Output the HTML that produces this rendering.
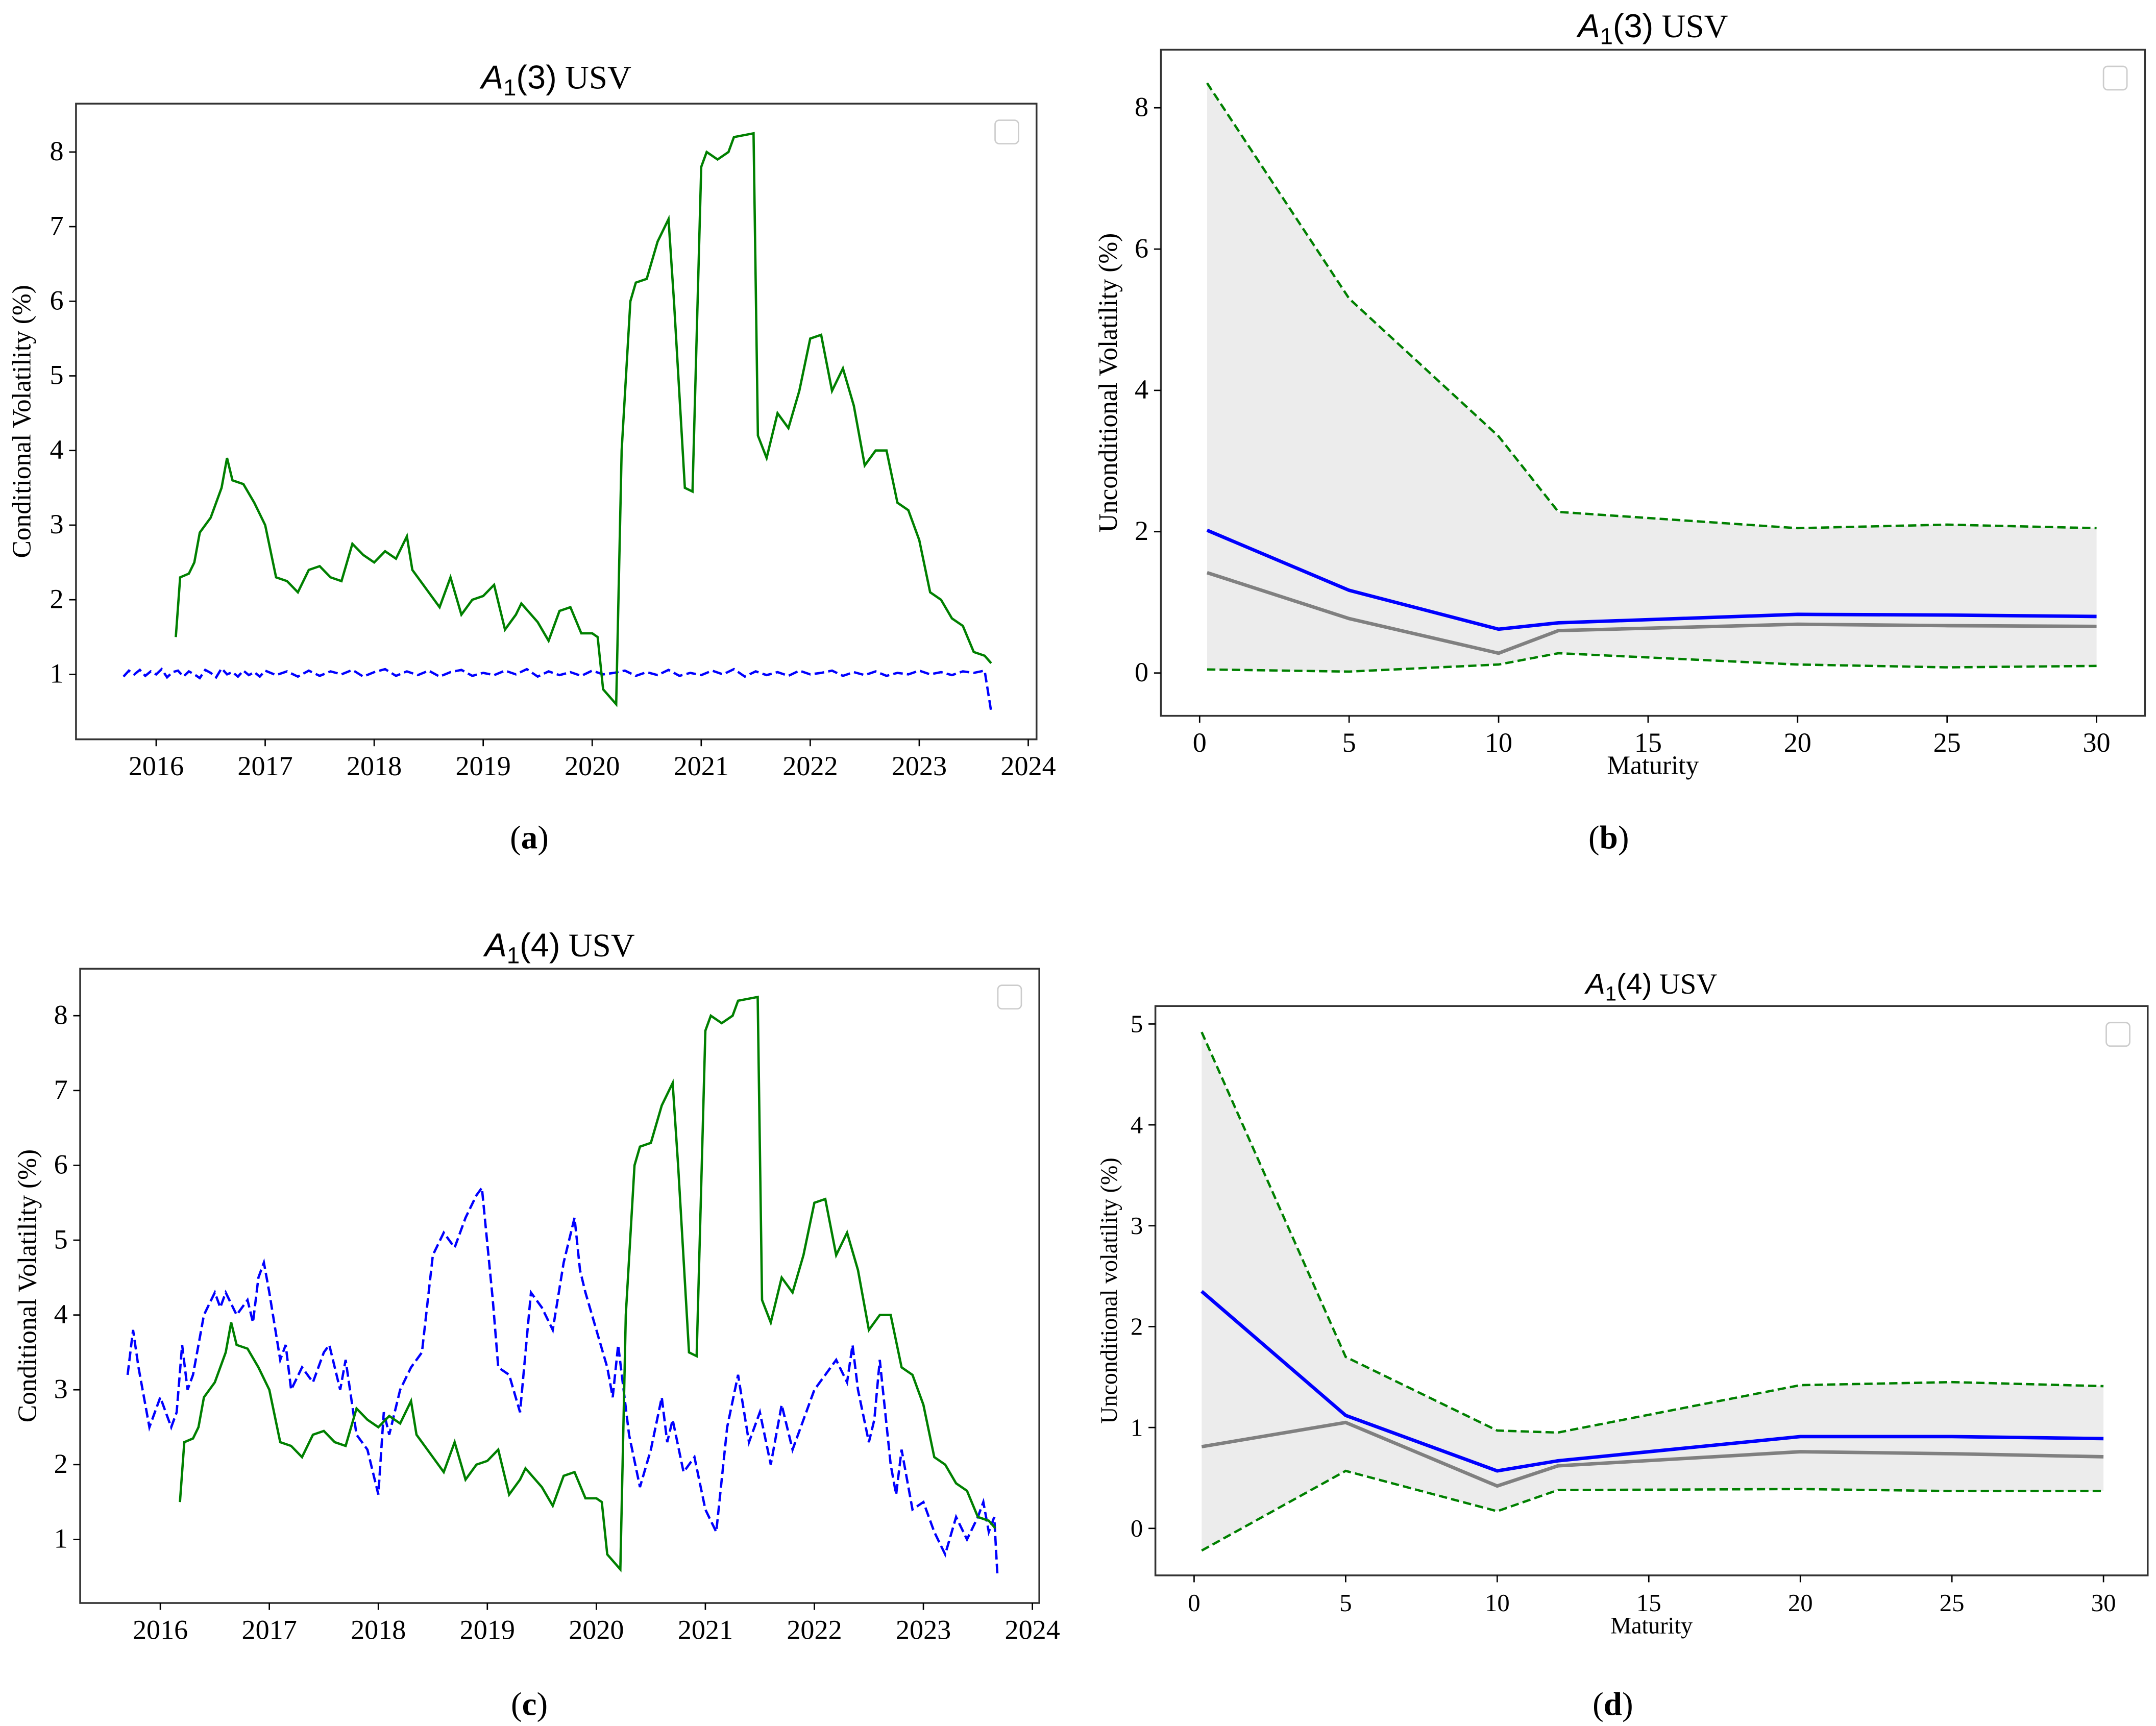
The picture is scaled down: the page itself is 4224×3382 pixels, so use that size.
<!DOCTYPE html>
<html><head><meta charset="utf-8">
<style>
html,body{margin:0;padding:0;background:#fff;}
svg{display:block;}
text{font-family:"Liberation Serif",serif;fill:#000;}
</style></head>
<body>
<svg id="fig" width="4224" height="3382" viewBox="0 0 1560 1249" preserveAspectRatio="none" xmlns="http://www.w3.org/2000/svg">
<rect x="0" y="0" width="1560" height="1249" fill="#fff"/>
</svg>
<script>
// ---- time-series data (panels a & c) ----
const greenDates = [2016.18,2016.22,2016.3,2016.35,2016.4,2016.5,2016.55,2016.6,2016.65,2016.7,2016.8,2016.9,2017.0,2017.1,2017.2,2017.3,2017.4,2017.5,2017.6,2017.7,2017.8,2017.9,2018.0,2018.1,2018.2,2018.3,2018.35,2018.5,2018.6,2018.7,2018.8,2018.9,2019.0,2019.1,2019.2,2019.3,2019.35,2019.5,2019.6,2019.7,2019.8,2019.9,2020.0,2020.05,2020.1,2020.22,2020.27,2020.35,2020.4,2020.5,2020.6,2020.7,2020.75,2020.85,2020.92,2021.0,2021.05,2021.15,2021.25,2021.3,2021.48,2021.52,2021.6,2021.7,2021.8,2021.9,2022.0,2022.1,2022.2,2022.3,2022.4,2022.5,2022.6,2022.7,2022.8,2022.9,2023.0,2023.1,2023.2,2023.3,2023.4,2023.5,2023.6,2023.66];
const greenVals = [1.5,2.3,2.35,2.5,2.9,3.1,3.3,3.5,3.9,3.6,3.55,3.3,3.0,2.3,2.25,2.1,2.4,2.45,2.3,2.25,2.75,2.6,2.5,2.65,2.55,2.85,2.4,2.1,1.9,2.3,1.8,2.0,2.05,2.2,1.6,1.8,1.95,1.7,1.45,1.85,1.9,1.55,1.55,1.5,0.8,0.6,4.0,6.0,6.25,6.3,6.8,7.1,6.0,3.5,3.45,7.8,8.0,7.9,8.0,8.2,8.25,4.2,3.9,4.5,4.3,4.8,5.5,5.55,4.8,5.1,4.6,3.8,4.0,4.0,3.3,3.2,2.8,2.1,2.0,1.75,1.65,1.3,1.25,1.15];
const blueADates = [2015.7,2015.75,2015.8,2015.85,2015.9,2015.95,2016.0,2016.05,2016.1,2016.15,2016.2,2016.25,2016.3,2016.35,2016.4,2016.45,2016.5,2016.55,2016.6,2016.65,2016.7,2016.75,2016.8,2016.85,2016.9,2016.95,2017.0,2017.1,2017.2,2017.3,2017.4,2017.5,2017.6,2017.7,2017.8,2017.9,2018.0,2018.1,2018.2,2018.3,2018.4,2018.5,2018.6,2018.7,2018.8,2018.9,2019.0,2019.1,2019.2,2019.3,2019.4,2019.5,2019.6,2019.7,2019.8,2019.9,2020.0,2020.1,2020.2,2020.3,2020.4,2020.5,2020.6,2020.7,2020.8,2020.9,2021.0,2021.1,2021.2,2021.3,2021.4,2021.5,2021.6,2021.7,2021.8,2021.9,2022.0,2022.1,2022.2,2022.3,2022.4,2022.5,2022.6,2022.7,2022.8,2022.9,2023.0,2023.1,2023.2,2023.3,2023.4,2023.5,2023.6,2023.66];
const blueAVals = [0.97,1.05,1.0,1.06,0.98,1.04,1.0,1.07,0.96,1.03,1.05,0.97,1.04,1.0,0.95,1.06,1.02,0.96,1.08,1.0,1.03,0.97,1.05,0.99,1.03,0.97,1.05,0.99,1.04,0.97,1.05,0.98,1.04,1.0,1.06,0.97,1.03,1.07,0.98,1.04,0.99,1.05,0.97,1.03,1.06,0.98,1.02,0.99,1.05,1.0,1.07,0.97,1.04,0.99,1.03,0.98,1.05,1.0,1.02,1.05,0.98,1.03,0.99,1.06,0.98,1.02,0.99,1.05,1.0,1.07,0.97,1.04,0.99,1.03,0.98,1.05,1.0,1.02,1.05,0.98,1.03,0.99,1.04,0.98,1.02,1.0,1.05,1.0,1.03,0.99,1.04,1.02,1.05,0.5];
const blueCDates = [2015.7,2015.75,2015.8,2015.9,2016.0,2016.05,2016.1,2016.15,2016.2,2016.25,2016.3,2016.4,2016.5,2016.55,2016.6,2016.7,2016.8,2016.85,2016.9,2016.95,2017.0,2017.1,2017.15,2017.2,2017.3,2017.4,2017.5,2017.55,2017.65,2017.7,2017.8,2017.9,2018.0,2018.05,2018.1,2018.2,2018.3,2018.4,2018.5,2018.6,2018.7,2018.8,2018.9,2018.95,2019.05,2019.1,2019.2,2019.3,2019.35,2019.4,2019.5,2019.6,2019.7,2019.8,2019.85,2019.9,2020.0,2020.1,2020.15,2020.2,2020.3,2020.4,2020.5,2020.6,2020.65,2020.7,2020.8,2020.9,2021.0,2021.1,2021.2,2021.3,2021.4,2021.5,2021.6,2021.7,2021.8,2021.9,2022.0,2022.1,2022.2,2022.3,2022.35,2022.4,2022.5,2022.55,2022.6,2022.7,2022.75,2022.8,2022.9,2023.0,2023.1,2023.2,2023.3,2023.4,2023.5,2023.55,2023.6,2023.65,2023.68];
const blueCVals = [3.2,3.8,3.3,2.5,2.9,2.7,2.5,2.7,3.6,3.0,3.2,4.0,4.3,4.1,4.3,4.0,4.2,3.9,4.5,4.7,4.3,3.4,3.6,3.0,3.3,3.1,3.5,3.6,3.0,3.4,2.4,2.2,1.6,2.7,2.4,3.0,3.3,3.5,4.8,5.1,4.9,5.3,5.6,5.7,4.2,3.3,3.2,2.7,3.5,4.3,4.1,3.8,4.7,5.3,4.6,4.3,3.8,3.3,2.9,3.6,2.4,1.7,2.2,2.9,2.3,2.6,1.9,2.1,1.4,1.1,2.5,3.2,2.3,2.7,2.0,2.8,2.2,2.6,3.0,3.2,3.4,3.1,3.6,3.0,2.3,2.6,3.4,2.0,1.6,2.2,1.4,1.5,1.1,0.8,1.3,1.0,1.3,1.5,1.1,1.3,0.5];
const yearTicks = [2016,2017,2018,2019,2020,2021,2022,2023,2024];
const volTicks = [1,2,3,4,5,6,7,8];
// ---- maturity data (panels b & d) ----
const maturities = [0.25,5,10,12,20,25,30];
const bUpper = [8.35,5.3,3.35,2.28,2.05,2.1,2.05];
const bLower = [0.05,0.02,0.12,0.28,0.12,0.08,0.1];
const bBlue  = [2.02,1.17,0.62,0.71,0.83,0.82,0.8];
const bGray  = [1.42,0.77,0.28,0.6,0.69,0.67,0.66];
const dUpper = [4.92,1.7,0.97,0.95,1.42,1.45,1.41];
const dLower = [-0.22,0.57,0.17,0.38,0.39,0.37,0.37];
const dBlue  = [2.35,1.12,0.57,0.67,0.91,0.91,0.89];
const dGray  = [0.81,1.05,0.42,0.62,0.76,0.74,0.71];
const matTicks = [0,5,10,15,20,25,30];
const bTicks = [0,2,4,6,8];
const dTicks = [0,1,2,3,4,5];

const NS="http://www.w3.org/2000/svg";
const svg=document.getElementById('fig');
function mk(tag,attrs,parent){const e=document.createElementNS(NS,tag);for(const k in attrs)e.setAttribute(k,attrs[k]);(parent||svg).appendChild(e);return e;}
function lin(d0,d1,r0,r1){return v=>r0+(v-d0)*(r1-r0)/(d1-d0);}
function pathD(xs,ys,sx,sy){return xs.map((x,i)=>(i?'L':'M')+sx(x).toFixed(2)+' '+sy(ys[i]).toFixed(2)).join(' ');}

function panel(cfg){
  const g=mk('g',{});
  
  
  const sx=lin(cfg.xd[0],cfg.xd[1],cfg.xr[0],cfg.xr[1]);
  const sy=lin(cfg.yd[0],cfg.yd[1],cfg.yr[0],cfg.yr[1]);
  cfg.draw(g,sx,sy);
  const fr=mk('rect',{x:cfg.box[0],y:cfg.box[1],width:cfg.box[2]-cfg.box[0],height:cfg.box[3]-cfg.box[1],fill:'none',stroke:'#333','stroke-width':1.3},g);
  
  const lg=mk('rect',{x:cfg.box[2]-30,y:cfg.box[1]+12,width:17,height:17,rx:3,fill:'#fff',stroke:'#ccc','stroke-width':1},g);
  
  cfg.xt.forEach(t=>{const x=sx(t);mk('line',{x1:x,x2:x,y1:cfg.box[3],y2:cfg.box[3]+5,stroke:'#000','stroke-width':1},g);
    const tx=mk('text',{x:x,y:cfg.box[3]+26,'text-anchor':'middle','font-size':cfg.fs},g);tx.textContent=t;
    });
  cfg.yt.forEach(t=>{const y=sy(t);mk('line',{x1:cfg.box[0]-5,x2:cfg.box[0],y1:y,y2:y,stroke:'#000','stroke-width':1},g);
    const tx=mk('text',{x:cfg.box[0]-9,y:y+6,'text-anchor':'end','font-size':cfg.fs},g);tx.textContent=t;
    });
  const cx=(cfg.box[0]+cfg.box[2])/2;
  const ti=mk('text',{x:cx,y:cfg.titleY,'text-anchor':'middle','font-size':cfg.tfs},g);
  
  ti.innerHTML='<tspan font-family="Liberation Sans, sans-serif" font-style="italic">A</tspan><tspan font-family="Liberation Sans, sans-serif" font-size="'+(cfg.tfs*0.7)+'" dy="5">1</tspan><tspan font-family="Liberation Sans, sans-serif" dy="-5">('+cfg.k+')</tspan> USV';
  const yl=mk('text',{x:0,y:0,'text-anchor':'middle','font-size':cfg.lfs,transform:'translate('+cfg.ylX+','+((cfg.box[1]+cfg.box[3])/2)+') rotate(-90)'},g);
  yl.textContent=cfg.ylabel;
  if(cfg.xlabel){const xl=mk('text',{x:cx,y:cfg.box[3]+42,'text-anchor':'middle','font-size':cfg.lfs},g);
    xl.textContent=cfg.xlabel;}
  const cap=mk('text',{x:cfg.capX,y:cfg.capY,'text-anchor':'middle','font-size':24},g);
  cap.innerHTML='(<tspan font-weight="bold">'+cfg.cap+'</tspan>)';
  
}
function tsDraw(blueX,blueY){return (g,sx,sy)=>{
  const b=mk('path',{d:pathD(blueX,blueY,sx,sy),fill:'none',stroke:'#0000ff','stroke-width':1.7,'stroke-dasharray':'7,3'},g);
  
  const gr=mk('path',{d:pathD(greenDates,greenVals,sx,sy),fill:'none',stroke:'#008000','stroke-width':1.7},g);
  
};}
function matDraw(up,lo,bl,gy){return (g,sx,sy)=>{
  const area=pathD(maturities,up,sx,sy)+' '+maturities.slice().reverse().map((x,i)=>'L'+sx(x).toFixed(2)+' '+sy(lo[lo.length-1-i]).toFixed(2)).join(' ')+' Z';
  const a=mk('path',{d:area,fill:'#ececec',stroke:'none'},g);
  const u=mk('path',{d:pathD(maturities,up,sx,sy),fill:'none',stroke:'#008000','stroke-width':1.7,'stroke-dasharray':'6,3'},g);
  
  const l=mk('path',{d:pathD(maturities,lo,sx,sy),fill:'none',stroke:'#008000','stroke-width':1.7,'stroke-dasharray':'6,3'},g);
  
  const gg=mk('path',{d:pathD(maturities,gy,sx,sy),fill:'none',stroke:'#808080','stroke-width':2.5},g);
  
  const bb=mk('path',{d:pathD(maturities,bl,sx,sy),fill:'none',stroke:'#0000ff','stroke-width':2.5},g);
  
};}
panel({name:'panel-a',k:3,cap:'a',box:[55,75,750,535],xd:[2016,2024],xr:[113,744],yd:[1,8],yr:[488,110],xt:yearTicks,yt:volTicks,fs:20,tfs:24,lfs:19,titleY:64,ylX:22,ylabel:'Conditional Volatility (%)',capX:383,capY:614,draw:tsDraw(blueADates,blueAVals)});
panel({name:'panel-b',k:3,cap:'b',box:[840,36,1552,518],xd:[0,30],xr:[868,1517],yd:[0,8],yr:[487,78],xt:matTicks,yt:bTicks,fs:20,tfs:24,lfs:19,titleY:27,ylX:808,ylabel:'Unconditional Volatility (%)',xlabel:'Maturity',capX:1164,capY:614,draw:matDraw(bUpper,bLower,bBlue,bGray)});
panel({name:'panel-c',k:4,cap:'c',box:[58,701,752,1160],xd:[2016,2024],xr:[116,747],yd:[1,8],yr:[1114,735],xt:yearTicks,yt:volTicks,fs:20,tfs:24,lfs:19,titleY:692,ylX:26,ylabel:'Conditional Volatility (%)',capX:383,capY:1241,draw:tsDraw(blueCDates,blueCVals)});
panel({name:'panel-d',k:4,cap:'d',box:[836,728,1554,1140],xd:[0,30],xr:[864,1522],yd:[0,5],yr:[1106,741],xt:matTicks,yt:dTicks,fs:18,tfs:21,lfs:17,titleY:719,ylX:808,ylabel:'Unconditional volatility (%)',xlabel:'Maturity',capX:1167,capY:1241,draw:matDraw(dUpper,dLower,dBlue,dGray)});
</script>
</body></html>
